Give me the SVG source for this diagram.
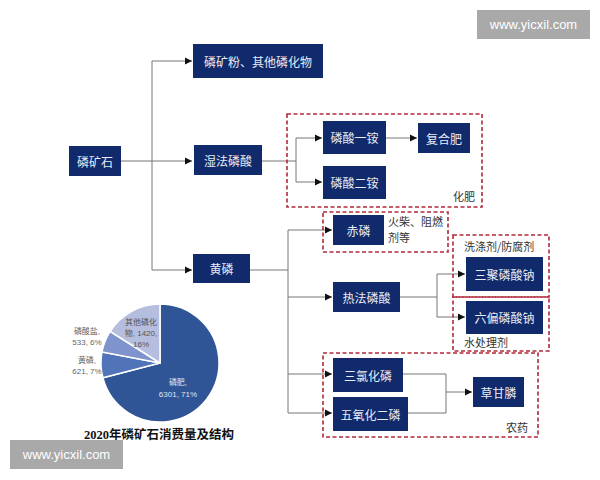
<svg xmlns="http://www.w3.org/2000/svg" width="600" height="480" viewBox="0 0 600 480">
<style>
.box{fill:#102a6b}
.bt{fill:#e8ecf5;font-family:"Noto Sans CJK SC",sans-serif;font-size:12px;text-anchor:middle;dominant-baseline:central}
.lbl{fill:#333;font-family:"Noto Sans CJK SC",sans-serif;font-size:11px}
.dash{fill:none;stroke:#b02a3a;stroke-width:1.6;stroke-dasharray:4,2.5}
.ln{fill:none;stroke:#777;stroke-width:1}
.pl{font-family:"Liberation Sans","Noto Sans CJK SC",sans-serif;font-size:8px;text-anchor:middle}
.wm{fill:#a9a9a9}
.wt{fill:#fff;font-family:"Liberation Sans",sans-serif;font-size:13px;text-anchor:middle;dominant-baseline:central}
</style>
<defs>
<marker id="ar" markerWidth="8" markerHeight="8" refX="7" refY="4" orient="auto" markerUnits="userSpaceOnUse">
<path d="M0,0.5 L7,4 L0,7.5 Z" fill="#111"/>
</marker>
</defs>
<rect width="600" height="480" fill="#fff"/>

<g id="connectors">
<path class="ln" d="M121,161 H192" marker-end="url(#ar)"/>
<path class="ln" d="M152,270 V61 H192" marker-end="url(#ar)"/>
<path class="ln" d="M152,270 H192" marker-end="url(#ar)"/>
<path class="ln" d="M262,161 H296"/>
<path class="ln" d="M296,138 V182"/>
<path class="ln" d="M296,138 H322" marker-end="url(#ar)"/>
<path class="ln" d="M296,182 H322" marker-end="url(#ar)"/>
<path class="ln" d="M386,138 H417" marker-end="url(#ar)"/>
<path class="ln" d="M250,270 H288"/>
<path class="ln" d="M288,230 V413"/>
<path class="ln" d="M288,230 H332" marker-end="url(#ar)"/>
<path class="ln" d="M288,297 H332" marker-end="url(#ar)"/>
<path class="ln" d="M288,374 H332" marker-end="url(#ar)"/>
<path class="ln" d="M288,413 H332" marker-end="url(#ar)"/>
<path class="ln" d="M400,297 H437"/>
<path class="ln" d="M437,274 V317"/>
<path class="ln" d="M437,274 H465" marker-end="url(#ar)"/>
<path class="ln" d="M437,317 H465" marker-end="url(#ar)"/>
<path class="ln" d="M403,374 H446 V413 H408"/>
<path class="ln" d="M446,392 H472" marker-end="url(#ar)"/>
</g>

<g id="group-fert"><rect class="dash" x="287" y="114" width="195" height="93"/><text class="lbl" x="453" y="201">化肥</text></g>
<g id="group-red"><rect class="dash" x="323" y="212" width="125" height="40"/><text class="lbl" x="388" y="226" font-size="10.5">火柴、阻燃</text><text class="lbl" x="388" y="242" font-size="10.5">剂等</text></g>
<g id="group-det"><rect class="dash" x="453" y="235" width="96" height="62"/><text class="lbl" x="464" y="251">洗涤剂/防腐剂</text></g>
<g id="group-water"><rect class="dash" x="453" y="297" width="96" height="54"/><text class="lbl" x="464" y="347">水处理剂</text></g>
<g id="group-pest"><rect class="dash" x="323" y="353" width="215" height="84"/><text class="lbl" x="506" y="432">农药</text></g>

<g id="n-ore"><rect class="box" x="69" y="146" width="52" height="30"/><text class="bt" x="95" y="161">磷矿石</text></g>
<g id="n-powder"><rect class="box" x="193" y="44" width="130" height="34"/><text class="bt" x="258" y="61">磷矿粉、其他磷化物</text></g>
<g id="n-wet"><rect class="box" x="194" y="145" width="68" height="30"/><text class="bt" x="228" y="160">湿法磷酸</text></g>
<g id="n-yellow"><rect class="box" x="193" y="254" width="57" height="29"/><text class="bt" x="221.5" y="268.5">黄磷</text></g>
<g id="n-map"><rect class="box" x="323" y="121" width="63" height="33"/><text class="bt" x="354.5" y="137.5">磷酸一铵</text></g>
<g id="n-dap"><rect class="box" x="323" y="166" width="63" height="33"/><text class="bt" x="354.5" y="182.5">磷酸二铵</text></g>
<g id="n-comp"><rect class="box" x="418" y="123" width="52" height="30"/><text class="bt" x="444" y="138">复合肥</text></g>
<g id="n-redp"><rect class="box" x="333" y="215" width="51" height="30"/><text class="bt" x="358.5" y="230">赤磷</text></g>
<g id="n-thermal"><rect class="box" x="333" y="282" width="67" height="30"/><text class="bt" x="366.5" y="297">热法磷酸</text></g>
<g id="n-stpp"><rect class="box" x="466" y="257" width="77" height="34"/><text class="bt" x="504.5" y="274">三聚磷酸钠</text></g>
<g id="n-shmp"><rect class="box" x="466" y="301" width="77" height="33"/><text class="bt" x="504.5" y="317.5">六偏磷酸钠</text></g>
<g id="n-pcl3"><rect class="box" x="333" y="358" width="70" height="34"/><text class="bt" x="368" y="375">三氯化磷</text></g>
<g id="n-p2o5"><rect class="box" x="333" y="397" width="75" height="34"/><text class="bt" x="370.5" y="414">五氧化二磷</text></g>
<g id="n-gly"><rect class="box" x="473" y="377" width="51" height="30"/><text class="bt" x="498.5" y="392">草甘膦</text></g>

<g id="pie" stroke="#fff" stroke-width="1.5">
<path d="M160,363 L160,304 A59,59 0 1 1 102.9,377.8 Z" fill="#2f5597"/>
<path d="M160,363 L102.9,377.8 A59,59 0 0 1 102.0,351.9 Z" fill="#5173b8"/>
<path d="M160,363 L102.0,351.9 A59,59 0 0 1 110.2,331.4 Z" fill="#7f93cc"/>
<path d="M160,363 L110.2,331.4 A59,59 0 0 1 160,304 Z" fill="#b6bee0"/>
</g>
<g id="pie-labels">
<text class="pl" fill="#555" x="141" y="325">其他磷化</text>
<text class="pl" fill="#555" x="141" y="336">物, 1420,</text>
<text class="pl" fill="#555" x="141" y="347">16%</text>
<text class="pl" fill="#666" x="87" y="334">磷酸盐,</text>
<text class="pl" fill="#666" x="87" y="345">533, 6%</text>
<text class="pl" fill="#666" x="87" y="363">黄磷,</text>
<text class="pl" fill="#666" x="87" y="374">621, 7%</text>
<text class="pl" fill="#dfe6f5" x="178" y="385">磷肥,</text>
<text class="pl" fill="#dfe6f5" x="178" y="397">6301, 71%</text>
<text x="159" y="439" font-family="'Liberation Serif','Noto Sans CJK SC',serif" font-size="12.5" font-weight="bold" text-anchor="middle" fill="#111">2020年磷矿石消费量及结构</text>
</g>

<g id="watermarks">
<rect class="wm" x="477" y="10" width="113" height="29"/><text class="wt" x="533.5" y="24.5">www.yicxil.com</text>
<rect class="wm" x="10" y="440" width="113" height="29"/><text class="wt" x="66.5" y="454.5">www.yicxil.com</text>
</g>
</svg>
